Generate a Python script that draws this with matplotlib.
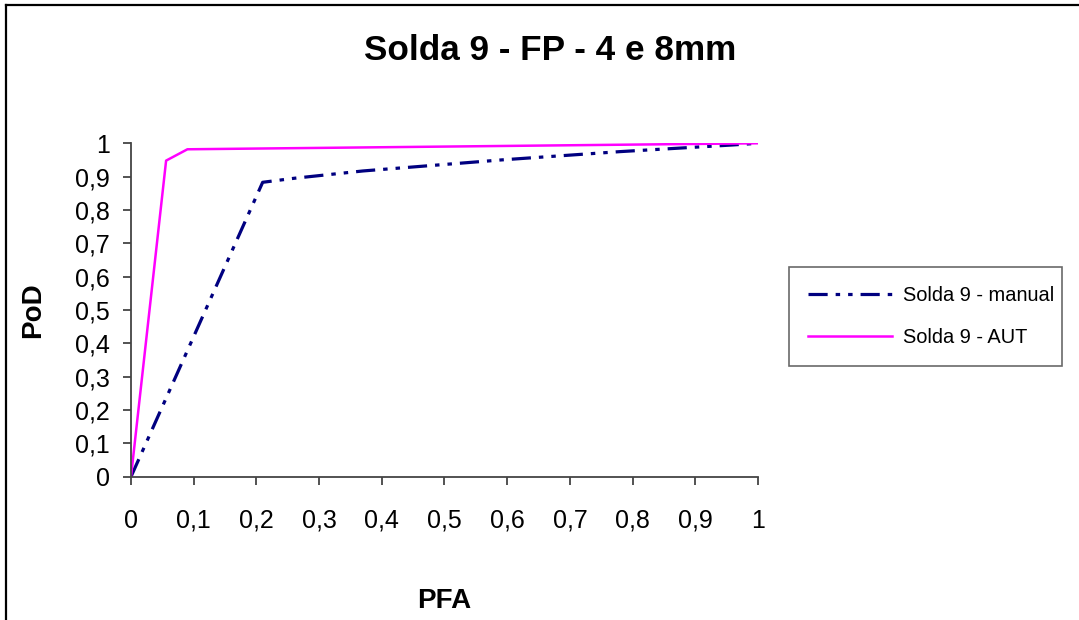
import matplotlib
matplotlib.use("Agg")
import matplotlib.pyplot as plt
from matplotlib.lines import Line2D

plt.rcParams["font.family"] = ["Liberation Sans", "DejaVu Sans"]

# data
manual_pfa = [0, 0.21, 0.26, 0.37, 0.59, 0.78, 0.96, 1.0]
manual_pod = [0, 0.883, 0.895, 0.917, 0.95, 0.975, 0.995, 1.0]
aut_pfa = [0, 0.056, 0.09, 1.0]
aut_pod = [0, 0.948, 0.982, 1.0]

ticks = [0, 0.1, 0.2, 0.3, 0.4, 0.5, 0.6, 0.7, 0.8, 0.9, 1]
tick_labels = ["0", "0,1", "0,2", "0,3", "0,4", "0,5", "0,6", "0,7", "0,8", "0,9", "1"]

fig = plt.figure(figsize=(10.79, 6.2), dpi=100)
ax = fig.add_axes([0.1214, 0.2311, 0.5811, 0.5378])

ax.plot(manual_pfa, manual_pod, color="#000080", linewidth=2.3,
        linestyle=(0, (6, 2.5, 1.4, 2.5, 1.4, 2.5)), label="Solda 9 - manual")
ax.plot(aut_pfa, aut_pod, color="#FF00FF", linewidth=1.8, label="Solda 9 - AUT")

ax.set_xlim(0, 1)
ax.set_ylim(0, 1)
ax.set_xticks(ticks)
ax.set_xticklabels(tick_labels)
ax.set_yticks(ticks)
ax.set_yticklabels(tick_labels)
ax.tick_params(axis="both", labelsize=18, length=6, width=1.3, color="#444444")
ax.tick_params(axis="x", pad=17)
ax.tick_params(axis="y", pad=9)
for side in ("top", "right"):
    ax.spines[side].set_visible(False)
for side in ("left", "bottom"):
    ax.spines[side].set_color("#444444")
    ax.spines[side].set_linewidth(1.3)

ax.set_xlabel("PFA", fontsize=20, fontweight="bold", labelpad=40)
ax.set_ylabel("PoD", fontsize=20, fontweight="bold", labelpad=21)
fig.text(0.51, 0.918, "Solda 9 - FP - 4 e 8mm", fontsize=25.3, fontweight="bold",
         ha="center", va="center")

leg = ax.legend(loc="upper left", bbox_to_anchor=(0.731, 0.411, 0.253, 0.158),
                bbox_transform=fig.transFigure, mode="expand", fontsize=14.4,
                frameon=True, fancybox=False, edgecolor="#444444",
                handlelength=4.2, handletextpad=0.55, borderpad=0.95,
                labelspacing=1.15, borderaxespad=0)
leg.get_frame().set_linewidth(1.2)

# chart border (only left and top edges visible)
fig.add_artist(Line2D([0.0055, 0.0055], [0.992, 0.0], transform=fig.transFigure,
                      color="black", linewidth=1.6))
fig.add_artist(Line2D([0.0055, 1.0], [0.992, 0.992], transform=fig.transFigure,
                      color="black", linewidth=1.6))

fig.savefig("out.png", dpi=100, facecolor="white")
